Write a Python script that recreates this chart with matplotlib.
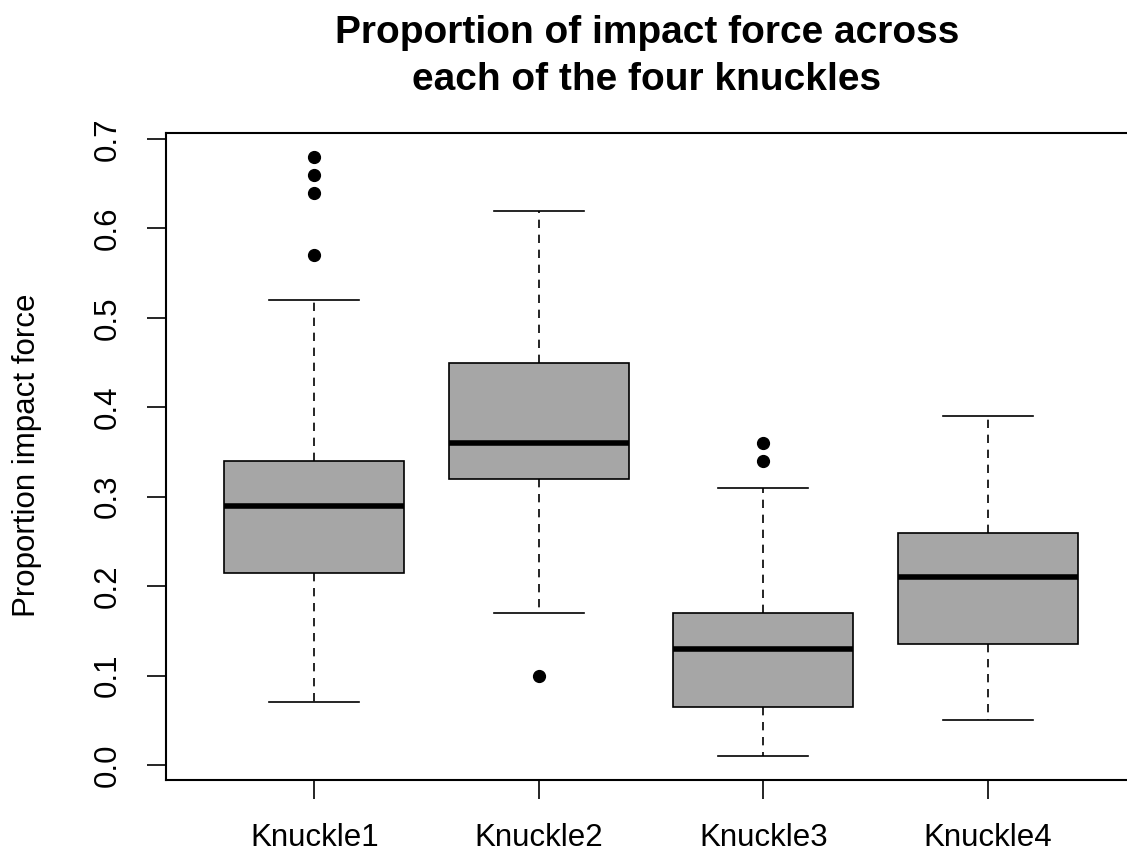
import matplotlib
matplotlib.use("Agg")
import matplotlib.pyplot as plt

plt.rcParams["font.family"] = ["Liberation Sans", "DejaVu Sans"]

labels = ["Knuckle1", "Knuckle2", "Knuckle3", "Knuckle4"]
whislo = [0.07, 0.17, 0.01, 0.05]
q1 = [0.215, 0.32, 0.065, 0.135]
med = [0.29, 0.36, 0.13, 0.21]
q3 = [0.34, 0.45, 0.17, 0.26]
whishi = [0.52, 0.62, 0.31, 0.39]
fliers = [[0.57, 0.64, 0.66, 0.68], [0.10], [0.34, 0.36], []]

stats = []
for i in range(len(labels)):
    stats.append(dict(label=labels[i], whislo=whislo[i], q1=q1[i], med=med[i],
                      q3=q3[i], whishi=whishi[i], fliers=fliers[i]))

fig = plt.figure(figsize=(11.27, 8.52), dpi=100)
ax = fig.add_axes([166 / 1127, 1 - 780 / 852, 970 / 1127, 647 / 852])

ax.bxp(stats, positions=[1, 2, 3, 4], widths=0.8, patch_artist=True,
       boxprops=dict(facecolor="#a6a6a6", edgecolor="black", linewidth=1.2),
       medianprops=dict(color="black", linewidth=4, solid_capstyle="butt"),
       whiskerprops=dict(color="black", linestyle=(0, (5, 4)), linewidth=1.2),
       capprops=dict(color="black", linewidth=1.2),
       capwidths=0.4,
       flierprops=dict(marker="o", markerfacecolor="black", markeredgecolor="black",
                       markersize=8.5, linestyle="none"))

ax.set_xlim(0.34, 4.66)
ax.set_ylim(-0.0168, 0.7068)
ax.set_yticks([0.0, 0.1, 0.2, 0.3, 0.4, 0.5, 0.6, 0.7])
ax.set_yticklabels(["0.0", "0.1", "0.2", "0.3", "0.4", "0.5", "0.6", "0.7"],
                   rotation=90, va="center")
ax.tick_params(axis="both", length=14, width=1.2, labelsize=22.5)
ax.tick_params(axis="x", pad=17)
ax.tick_params(axis="y", pad=17)
for s in ax.spines.values():
    s.set_linewidth(1.5)

fig.text(27 / 1127, 1 - 455 / 852, "Proportion impact force", rotation=90,
         ha="center", va="center", fontsize=22.5)
fig.text(0.574, 1 - 43 / 852, "Proportion of impact force across",
         ha="center", va="baseline", fontsize=28, fontweight="bold")
fig.text(0.574, 1 - 90 / 852, "each of the four knuckles",
         ha="center", va="baseline", fontsize=28, fontweight="bold")

fig.savefig("out.png", dpi=100)
